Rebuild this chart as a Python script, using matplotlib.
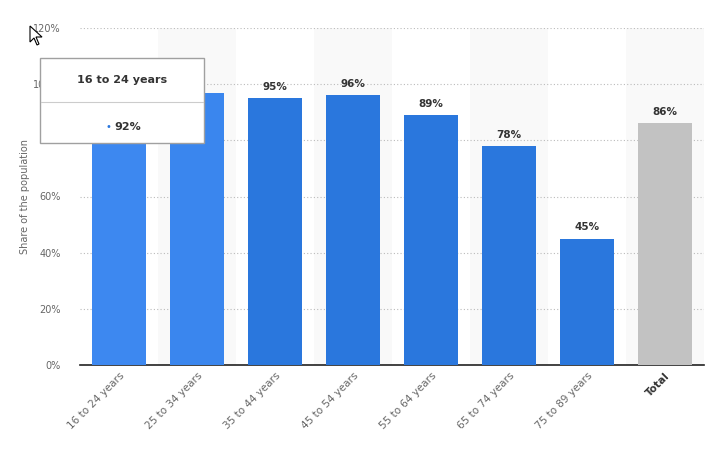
import matplotlib.pyplot as plt
from matplotlib.patches import Rectangle, Polygon
from matplotlib.lines import Line2D

# data
categories = ["16 to 24 years", "25 to 34 years", "35 to 44 years", "45 to 54 years",
              "55 to 64 years", "65 to 74 years", "75 to 89 years", "Total"]
values = [92, 97, 95, 96, 89, 78, 45, 86]
bar_colors = ["#3d88f0", "#3a86ee", "#2a77dd", "#2a77dd", "#2a77dd", "#2a77dd", "#2a77dd", "#c2c2c2"]
yticks = [0, 20, 40, 60, 80, 100, 120]

W, H = 712, 450
fig = plt.figure(figsize=(W / 100, H / 100), dpi=100)
ax = fig.add_axes([80 / W, (H - 365) / H, 624 / W, 337 / H])

x = list(range(len(categories)))

# alternating column bands
for i in x:
    if i % 2 == 1:
        ax.axvspan(i - 0.5, i + 0.5, color="#f9f9f9", zorder=0, lw=0)

ax.bar(x, values, width=0.69, color=bar_colors, zorder=3)

for i, v in zip(x, values):
    if i == 1:
        continue
    ax.text(i, v + 2.2, f"{v}%", ha="center", va="bottom", fontsize=7.5,
            color="#333333", fontweight="bold", zorder=4)

ax.set_xlim(-0.5, len(categories) - 0.5)
ax.set_ylim(0, 120)
ax.set_yticks(yticks)
ax.set_yticklabels([f"{t}%" for t in yticks], fontsize=7, color="#666666")
ax.yaxis.grid(True, linestyle=(0, (1, 2)), color="#bbbbbb", lw=0.8, zorder=1)
ax.set_axisbelow(True)
ax.tick_params(axis="y", length=0, pad=14)
ax.tick_params(axis="x", length=0, pad=4)
ax.set_xticks(x)
ax.set_xticklabels(categories, rotation=45, ha="right", rotation_mode="anchor",
                   fontsize=7.5, color="#666666")
tl = ax.get_xticklabels()[-1]
tl.set_fontweight("bold")
tl.set_color("#333333")

for s in ["top", "right", "left"]:
    ax.spines[s].set_visible(False)
ax.spines["bottom"].set_color("#222222")
ax.spines["bottom"].set_linewidth(1.2)

ax.set_ylabel("Share of the population", fontsize=7, color="#666666")
ax.yaxis.set_label_coords(-50 / 624, 0.5)

# tooltip
box = Rectangle((40 / W, 1 - 143 / H), 164 / W, 85 / H, transform=fig.transFigure,
                facecolor="white", edgecolor="#a0a0a0", lw=1, zorder=10)
fig.patches.append(box)
fig.lines.append(Line2D([41 / W, 203 / W], [1 - 102 / H, 1 - 102 / H], transform=fig.transFigure,
                        color="#cccccc", lw=0.8, zorder=11))
fig.text(122 / W, 1 - 80 / H, "16 to 24 years", ha="center", va="center", fontsize=8,
         fontweight="bold", color="#333333", zorder=12)
fig.text(108 / W, 1 - 127 / H, "\u2022", ha="center", va="center", fontsize=7,
         color="#2a77dd", zorder=12)
fig.text(128 / W, 1 - 127 / H, "92%", ha="center", va="center", fontsize=8,
         fontweight="bold", color="#333333", zorder=12)

# mouse cursor
cur = [(30, 26), (30, 42), (34, 38), (37, 45), (39, 44), (36, 37), (42, 37)]
fig.patches.append(Polygon([(px / W, 1 - py / H) for px, py in cur], closed=True,
                           transform=fig.transFigure, facecolor="white",
                           edgecolor="black", lw=0.8, zorder=13))

fig.savefig("out.png", dpi=100)
